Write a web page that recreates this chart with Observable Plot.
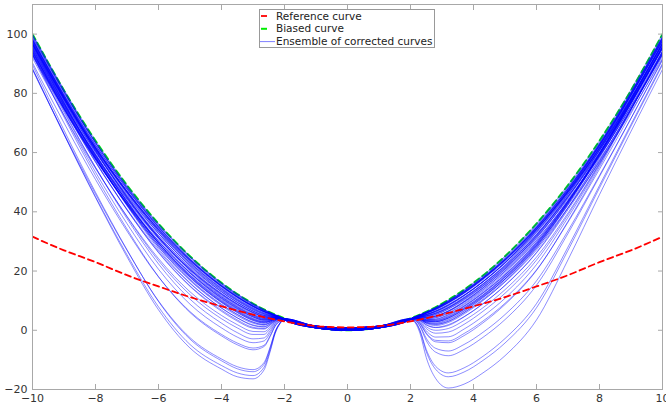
<!DOCTYPE html>
<html>
<head>
<meta charset="utf-8">
<script src="https://cdn.jsdelivr.net/npm/d3@7"></script>
<script src="https://cdn.jsdelivr.net/npm/@observablehq/plot@0.6"></script>
<style>
  body { margin: 0; background: #fff; }
  #chart { width: 666px; height: 411px; }
</style>
</head>
<body>
<div id="chart"></div>
<script>
// Axis ticks
const xTicks = [-10, -8, -6, -4, -2, 0, 2, 4, 6, 8, 10];
const yTicks = [-20, 0, 20, 40, 60, 80, 100];

// Reference and biased curves, sampled at integer x
const curveX = [-10, -9, -8, -7, -6, -5, -4, -3, -2, -1, 0, 1, 2, 3, 4, 5, 6, 7, 8, 9, 10];
const referenceY = [31.6, 27.0, 23.0, 18.6, 14.8, 11.2, 8.1, 5.3, 3.0, 1.4, 1.0, 1.4, 3.0, 5.3, 8.1, 11.2, 14.8, 18.6, 23.0, 27.0, 31.6];
const biasedY = [100, 81, 64, 49, 36, 25, 16, 9, 4, 1, 0, 1, 4, 9, 16, 25, 36, 49, 64, 81, 100];

// Ensemble of corrected curves: every row is one member, sampled at ensembleX
const ensembleX = [-10, -8, -7, -6, -5, -4, -3.5, -3, -2.65, -2.45, -2.3, -2.15, -2, -1, 0, 1, 2, 2.15, 2.3, 2.5, 2.8, 3.2, 3.7, 4.3, 5, 6, 7, 8, 10];
const ensembleY = [
  [88.5, 44.8, 24.8, 6.9, -6.0, -13.1, -15.7, -16.4, -13.4, -7.0, -1.2, 2.1, 3.7, 1.1, 0.3, 1.1, 3.7, 4.1, 3.8, 2.5, 2.0, 3.0, 6.0, 10.5, 16.8, 28.1, 42.9, 59.6, 97.1],
  [88.1, 45.1, 25.5, 7.9, -4.8, -11.9, -14.4, -15.3, -12.5, -6.5, -1.0, 2.2, 3.5, 0.8, 0.0, 0.8, 3.6, 4.5, 4.9, 5.3, 6.4, 8.4, 11.7, 16.4, 22.8, 33.8, 47.1, 62.3, 98.3],
  [89.6, 46.6, 27.2, 9.7, -3.0, -10.3, -13.0, -14.0, -11.5, -5.8, -0.6, 2.4, 3.9, 1.4, 0.8, 1.4, 3.9, 3.6, 2.2, -1.2, -3.9, -4.2, -1.8, 2.5, 8.7, 20.2, 36.8, 55.2, 94.2],
  [88.0, 46.0, 27.0, 9.9, -2.5, -9.7, -12.3, -13.3, -10.9, -5.5, -0.5, 2.4, 3.7, 1.1, 0.3, 1.1, 3.7, 4.5, 5.1, 5.9, 7.3, 9.6, 13.0, 17.7, 24.0, 34.8, 47.7, 62.5, 97.8],
  [93.0, 52.2, 34.2, 18.1, 6.0, -1.9, -4.9, -6.6, -5.5, -2.0, 1.3, 3.1, 3.5, 0.8, 0.0, 0.8, 3.6, 2.5, -1.0, -9.2, -16.3, -19.5, -18.2, -14.4, -8.6, 3.5, 23.8, 45.8, 88.1],
  [90.3, 50.9, 33.5, 18.0, 6.3, -1.4, -4.3, -6.0, -5.1, -1.7, 1.4, 3.0, 3.9, 1.4, 0.8, 1.4, 3.9, 4.2, 4.4, 4.3, 4.8, 6.5, 9.6, 14.2, 20.4, 31.2, 44.7, 60.0, 95.6],
  [93.1, 53.4, 36.0, 20.6, 8.8, 0.8, -2.3, -4.2, -3.6, -0.8, 1.9, 3.3, 3.7, 1.1, 0.3, 1.1, 3.7, 4.5, 5.1, 5.8, 7.1, 9.3, 12.6, 17.4, 23.8, 34.7, 47.8, 62.8, 98.7],
  [94.6, 55.0, 37.7, 22.4, 10.5, 2.4, -0.8, -2.9, -2.6, -0.1, 2.2, 3.5, 3.5, 0.8, 0.0, 0.8, 3.6, 2.8, -0.2, -7.2, -13.2, -15.7, -14.1, -10.2, -4.3, 7.6, 27.0, 48.1, 89.6],
  [93.4, 55.0, 38.3, 23.5, 12.0, 3.9, 0.8, -1.4, -1.4, 0.6, 2.6, 3.5, 3.9, 1.4, 0.8, 1.4, 3.9, 4.1, 4.0, 3.3, 3.2, 4.5, 7.5, 12.0, 18.3, 29.2, 43.3, 59.3, 95.8],
  [91.9, 54.6, 38.5, 24.2, 13.0, 5.0, 1.9, -0.4, -0.5, 1.1, 2.8, 3.6, 3.7, 1.1, 0.3, 1.1, 3.7, 4.4, 5.1, 6.0, 7.5, 9.8, 13.1, 17.8, 24.0, 34.6, 47.0, 61.4, 96.0],
  [95.3, 57.2, 40.7, 26.2, 14.8, 6.4, 3.1, 0.7, 0.4, 1.7, 3.1, 3.8, 3.5, 0.8, 0.0, 0.8, 3.6, 3.3, 1.3, -3.5, -7.4, -8.6, -6.5, -2.4, 3.6, 15.2, 32.7, 51.9, 91.5],
  [96.7, 58.4, 42.0, 27.5, 16.0, 7.5, 4.2, 1.6, 1.1, 2.2, 3.4, 3.9, 3.9, 1.4, 0.8, 1.4, 3.9, 4.4, 4.8, 4.9, 5.8, 7.7, 11.0, 15.7, 22.1, 33.2, 46.8, 62.4, 99.0],
  [95.2, 58.1, 42.2, 28.2, 17.0, 8.6, 5.3, 2.7, 1.9, 2.7, 3.6, 3.9, 3.7, 1.1, 0.3, 1.1, 3.7, 3.8, 2.9, 0.6, -1.0, -0.6, 2.0, 6.4, 12.5, 23.7, 39.0, 56.2, 93.8],
  [94.6, 58.1, 42.5, 28.8, 17.8, 9.4, 6.0, 3.4, 2.5, 3.1, 3.8, 4.0, 3.5, 0.8, 0.0, 0.8, 3.6, 4.4, 4.9, 5.4, 6.6, 8.7, 11.9, 16.5, 22.8, 33.5, 46.5, 61.3, 96.5],
  [98.0, 60.6, 44.7, 30.8, 19.5, 10.8, 7.3, 4.5, 3.4, 3.7, 4.1, 4.2, 3.9, 1.4, 0.8, 1.4, 3.9, 2.9, 0.1, -6.5, -12.2, -14.4, -12.7, -8.8, -2.8, 9.0, 28.1, 48.9, 90.1],
  [97.3, 60.6, 45.0, 31.4, 20.3, 11.6, 8.1, 5.2, 4.0, 4.1, 4.3, 4.2, 3.7, 1.1, 0.3, 1.1, 3.7, 4.5, 5.2, 6.0, 7.4, 9.7, 13.1, 17.8, 24.3, 35.2, 48.2, 63.1, 98.8],
  [96.5, 60.2, 44.9, 31.5, 20.5, 11.9, 8.4, 5.5, 4.2, 4.2, 4.3, 4.2, 3.5, 0.8, 0.0, 0.8, 3.6, 3.3, 1.6, -2.7, -6.1, -7.0, -4.8, -0.7, 5.3, 16.7, 33.6, 52.3, 91.2],
  [94.7, 59.3, 44.3, 31.3, 20.5, 12.1, 8.6, 5.8, 4.4, 4.3, 4.3, 4.2, 3.9, 1.4, 0.8, 1.4, 3.9, 4.3, 4.6, 4.9, 5.8, 7.7, 10.9, 15.4, 21.6, 32.2, 45.2, 60.1, 95.2],
  [97.9, 61.5, 46.2, 32.8, 21.8, 13.0, 9.4, 6.5, 5.0, 4.7, 4.6, 4.3, 3.7, 1.1, 0.3, 1.1, 3.7, 4.0, 3.4, 1.8, 0.9, 1.6, 4.5, 8.9, 15.2, 26.3, 41.3, 58.2, 95.6],
  [94.1, 59.3, 44.6, 31.9, 21.3, 12.9, 9.4, 6.5, 5.0, 4.7, 4.5, 4.2, 3.5, 0.8, 0.0, 0.8, 3.6, 4.4, 5.0, 5.9, 7.5, 9.7, 13.0, 17.6, 23.8, 34.2, 46.6, 60.8, 95.0],
  [97.3, 61.5, 46.5, 33.4, 22.5, 13.8, 10.2, 7.2, 5.6, 5.0, 4.8, 4.4, 3.9, 1.4, 0.8, 1.4, 3.9, 3.6, 2.3, -0.9, -3.4, -3.6, -1.1, 3.1, 9.1, 20.4, 36.5, 54.4, 92.6],
  [98.3, 62.1, 47.0, 33.8, 22.8, 14.0, 10.3, 7.3, 5.6, 5.1, 4.8, 4.4, 3.7, 1.1, 0.3, 1.1, 3.7, 4.5, 5.1, 5.8, 7.1, 9.3, 12.6, 17.4, 23.8, 34.7, 47.8, 62.8, 98.7],
  [96.4, 61.2, 46.4, 33.5, 22.8, 14.1, 10.5, 7.5, 5.8, 5.2, 4.8, 4.4, 3.5, 0.8, 0.0, 0.8, 3.6, 4.2, 4.1, 3.6, 3.8, 5.3, 8.3, 12.8, 19.0, 29.8, 43.6, 59.2, 95.1],
  [97.4, 61.8, 46.9, 33.9, 23.0, 14.3, 10.7, 7.6, 5.9, 5.3, 4.9, 4.4, 3.9, 1.4, 0.8, 1.4, 3.9, 4.5, 5.1, 6.0, 7.5, 9.8, 13.2, 17.8, 24.2, 35.0, 47.8, 62.6, 97.9],
  [98.6, 62.7, 47.7, 34.7, 23.8, 14.9, 11.2, 8.1, 6.3, 5.5, 5.0, 4.5, 3.7, 1.1, 0.3, 1.1, 3.7, 3.7, 2.6, -0.2, -2.3, -2.2, 0.4, 4.7, 10.8, 22.2, 38.1, 55.8, 94.1],
  [99.6, 63.4, 48.2, 35.1, 24.0, 15.1, 11.4, 8.2, 6.4, 5.6, 5.1, 4.5, 3.5, 0.8, 0.0, 0.8, 3.6, 4.4, 4.5, 4.3, 4.7, 6.4, 9.6, 14.3, 20.7, 31.8, 45.8, 61.7, 98.5],
  [95.8, 61.1, 46.7, 34.1, 23.5, 14.9, 11.3, 8.2, 6.4, 5.6, 5.0, 4.4, 3.9, 1.4, 0.8, 1.4, 3.9, 4.4, 4.8, 5.3, 6.5, 8.6, 11.8, 16.3, 22.6, 33.2, 46.0, 60.7, 95.5],
  [97.9, 62.5, 47.8, 35.0, 24.2, 15.4, 11.7, 8.6, 6.7, 5.8, 5.1, 4.5, 3.7, 1.1, 0.3, 1.1, 3.7, 4.1, 3.8, 2.8, 2.5, 3.7, 6.6, 11.1, 17.3, 28.3, 42.6, 58.8, 95.5],
  [99.0, 63.4, 48.5, 35.6, 24.8, 15.8, 12.1, 8.9, 7.0, 5.9, 5.2, 4.6, 3.5, 0.8, 0.0, 0.8, 3.6, 4.4, 4.6, 4.7, 5.3, 7.2, 10.4, 15.0, 21.4, 32.4, 46.0, 61.5, 97.8],
  [100, 64.0, 49.0, 36.0, 25.0, 16.0, 12.3, 9.0, 7.0, 6.0, 5.3, 4.6, 3.9, 1.4, 0.8, 1.4, 3.9, 4.6, 5.3, 6.3, 7.8, 10.2, 13.7, 18.5, 25.0, 36.0, 49.0, 64.0, 100],
  [96.7, 61.6, 46.9, 34.2, 23.5, 14.8, 11.2, 8.1, 6.3, 5.5, 5.0, 4.4, 3.7, 1.1, 0.3, 1.1, 3.7, 3.8, 3.2, 1.2, 0.0, 0.6, 3.3, 7.6, 13.7, 24.7, 39.6, 56.4, 93.3],
  [97.0, 61.0, 45.8, 32.7, 21.7, 13.1, 9.5, 6.5, 5.0, 4.7, 4.6, 4.3, 3.5, 0.8, 0.0, 0.8, 3.6, 4.5, 5.0, 5.8, 7.1, 9.4, 12.7, 17.4, 23.7, 34.5, 47.4, 62.3, 97.7],
  [93.2, 57.7, 42.7, 29.5, 18.8, 10.5, 7.1, 4.5, 3.4, 3.6, 4.0, 4.0, 3.9, 1.4, 0.8, 1.4, 3.9, 4.3, 4.7, 5.1, 6.1, 8.0, 11.2, 15.7, 21.8, 32.3, 45.1, 59.8, 94.3],
  [98.9, 63.2, 48.4, 35.5, 24.6, 15.7, 12.0, 8.8, 6.8, 5.9, 5.2, 4.6, 3.7, 1.1, 0.3, 1.1, 3.7, 4.6, 5.2, 6.1, 7.6, 10.0, 13.4, 18.1, 24.6, 35.5, 48.4, 63.3, 98.9],
  [99.6, 63.3, 48.1, 34.9, 23.8, 14.9, 11.2, 8.0, 6.2, 5.5, 5.0, 4.5, 3.5, 0.8, 0.0, 0.8, 3.6, 4.5, 4.9, 5.3, 6.3, 8.4, 11.7, 16.4, 22.9, 34.0, 47.4, 62.9, 99.3],
  [96.8, 61.7, 47.1, 34.4, 23.7, 15.0, 11.3, 8.2, 6.4, 5.6, 5.0, 4.4, 3.9, 1.4, 0.8, 1.4, 3.9, 4.4, 5.0, 5.8, 7.2, 9.4, 12.7, 17.4, 23.7, 34.4, 47.1, 61.8, 96.8],
  [95.8, 59.0, 43.3, 29.6, 18.5, 10.0, 6.6, 3.9, 2.9, 3.4, 3.9, 4.1, 3.7, 1.1, 0.3, 1.1, 3.7, 4.1, 3.9, 3.1, 2.9, 4.1, 7.1, 11.5, 17.8, 28.8, 43.0, 59.1, 95.6],
  [96.0, 58.4, 42.3, 28.1, 16.8, 8.3, 4.9, 2.4, 1.7, 2.6, 3.6, 3.9, 3.5, 0.8, 0.0, 0.8, 3.6, 4.4, 4.7, 4.9, 5.7, 7.6, 10.8, 15.5, 21.9, 32.9, 46.4, 61.8, 98.0],
  [93.9, 58.9, 44.2, 31.4, 20.8, 12.4, 8.9, 6.1, 4.7, 4.4, 4.4, 4.2, 3.9, 1.4, 0.8, 1.4, 3.9, 4.0, 4.0, 3.3, 3.3, 4.6, 7.6, 11.9, 18.0, 28.6, 42.2, 57.7, 93.0],
  [95.2, 59.0, 43.6, 30.2, 19.3, 10.8, 7.4, 4.6, 3.5, 3.7, 4.1, 4.1, 3.7, 1.1, 0.3, 1.1, 3.7, 4.2, 4.2, 3.9, 4.2, 5.7, 8.7, 13.2, 19.5, 30.3, 43.9, 59.5, 95.3],
  [97.4, 59.7, 43.5, 29.4, 18.0, 9.4, 6.0, 3.3, 2.4, 3.1, 3.8, 4.1, 3.5, 0.8, 0.0, 0.8, 3.6, 4.1, 3.7, 2.3, 1.6, 2.6, 5.5, 10.0, 16.4, 27.6, 42.5, 59.3, 96.9],
  [95.3, 60.2, 45.5, 32.7, 22.0, 13.5, 10.0, 7.0, 5.4, 4.9, 4.7, 4.3, 3.9, 1.4, 0.8, 1.4, 3.9, 4.0, 3.6, 2.5, 2.0, 3.0, 5.9, 10.2, 16.3, 27.1, 41.3, 57.3, 93.3],
  [94.5, 56.8, 40.6, 26.4, 15.0, 6.8, 3.5, 1.0, 0.6, 1.9, 3.2, 3.8, 3.7, 1.1, 0.3, 1.1, 3.7, 4.3, 4.5, 4.4, 4.9, 6.6, 9.8, 14.4, 20.7, 31.6, 45.1, 60.6, 96.6],
  [92.5, 57.7, 42.9, 30.1, 19.5, 11.3, 7.9, 5.2, 4.0, 4.0, 4.1, 4.0, 3.5, 0.8, 0.0, 0.8, 3.6, 4.0, 3.8, 3.0, 2.9, 4.1, 7.0, 11.3, 17.3, 27.8, 41.4, 56.8, 91.8],
  [96.6, 59.3, 43.4, 29.5, 18.3, 9.7, 6.3, 3.6, 2.7, 3.2, 3.9, 4.1, 3.9, 1.4, 0.8, 1.4, 3.9, 4.5, 4.9, 5.3, 6.4, 8.4, 11.7, 16.4, 22.8, 33.8, 47.1, 62.3, 98.3],
  [96.6, 61.5, 46.8, 34.0, 23.3, 14.6, 11.0, 7.9, 6.2, 5.4, 4.9, 4.4, 3.7, 1.1, 0.3, 1.1, 3.7, 3.9, 3.4, 1.9, 1.0, 1.9, 4.6, 9.0, 15.1, 26.1, 40.7, 57.1, 93.8],
  [94.0, 58.0, 42.8, 29.4, 18.5, 10.2, 6.8, 4.1, 3.1, 3.5, 3.9, 4.0, 3.5, 0.8, 0.0, 0.8, 3.6, 4.1, 4.1, 3.6, 3.7, 5.2, 8.1, 12.6, 18.7, 29.4, 43.1, 58.6, 94.1],
  [96.7, 60.6, 45.3, 32.0, 21.0, 12.4, 8.9, 6.0, 4.6, 4.4, 4.4, 4.3, 3.9, 1.4, 0.8, 1.4, 3.9, 4.3, 4.6, 4.6, 5.3, 7.1, 10.2, 14.8, 21.1, 32.0, 45.5, 60.9, 96.8],
  [93.9, 56.8, 40.9, 26.9, 15.8, 7.5, 4.2, 1.8, 1.2, 2.3, 3.3, 3.8, 3.7, 1.1, 0.3, 1.1, 3.7, 4.4, 5.0, 5.6, 6.9, 9.1, 12.4, 17.0, 23.3, 34.0, 46.8, 61.6, 96.7],
  [98.1, 61.8, 46.6, 33.3, 22.3, 13.5, 9.9, 6.9, 5.3, 4.9, 4.7, 4.4, 3.5, 0.8, 0.0, 0.8, 3.6, 4.2, 4.0, 3.1, 2.9, 4.2, 7.2, 11.7, 18.0, 29.1, 43.5, 59.7, 96.6],
  [93.3, 58.0, 43.0, 30.0, 19.3, 11.0, 7.6, 4.9, 3.7, 3.8, 4.1, 4.0, 3.9, 1.4, 0.8, 1.4, 3.9, 4.2, 4.3, 4.2, 4.7, 6.3, 9.4, 13.8, 19.9, 30.5, 43.7, 58.7, 93.6],
  [93.8, 57.7, 42.4, 28.9, 18.0, 9.7, 6.4, 3.7, 2.8, 3.2, 3.8, 4.0, 3.7, 1.1, 0.3, 1.1, 3.7, 4.4, 5.0, 5.8, 7.2, 9.4, 12.7, 17.3, 23.5, 34.1, 46.7, 61.2, 95.8],
  [97.8, 62.4, 47.6, 34.8, 24.0, 15.2, 11.6, 8.4, 6.6, 5.7, 5.1, 4.5, 3.5, 0.8, 0.0, 0.8, 3.6, 4.2, 4.1, 3.5, 3.5, 4.9, 8.0, 12.5, 18.7, 29.7, 43.7, 59.6, 96.0],
  [96.2, 58.7, 42.7, 28.6, 17.3, 8.8, 5.4, 2.8, 2.0, 2.8, 3.7, 4.0, 3.9, 1.4, 0.8, 1.4, 3.9, 4.3, 4.3, 4.0, 4.3, 5.9, 9.0, 13.6, 20.0, 31.0, 44.9, 60.8, 97.3],
  [92.9, 58.3, 43.7, 31.0, 20.5, 12.2, 8.8, 6.0, 4.6, 4.4, 4.3, 4.1, 3.7, 1.1, 0.3, 1.1, 3.7, 4.2, 4.5, 4.8, 5.6, 7.5, 10.6, 15.0, 21.1, 31.5, 44.3, 58.9, 93.2],
  [98.2, 60.9, 45.1, 31.3, 20.0, 11.3, 7.8, 4.9, 3.7, 3.9, 4.2, 4.2, 3.5, 0.8, 0.0, 0.8, 3.6, 4.1, 3.9, 2.7, 2.3, 3.4, 6.4, 11.0, 17.3, 28.6, 43.2, 59.8, 97.3]
];

const legendLabels = ["Reference curve", "Biased curve", "Ensemble of corrected curves"];

const RED = "#ff0000";
const GREEN = "#00ee00";
const BLUE = "#0000ff";
const BLUE_OPACITY = 0.5;
const AXIS_GRAY = "#a8a8a8";

const reference = curveX.map((x, i) => ({x, y: referenceY[i]}));
const biased = curveX.map((x, i) => ({x, y: biasedY[i]}));
const ensemble = ensembleY.flatMap((ys, k) => ys.map((y, i) => ({member: k, x: ensembleX[i], y})));

const chart = Plot.plot({
  width: 666,
  height: 411,
  marginLeft: 32,
  marginRight: 4,
  marginTop: 4,
  marginBottom: 22,
  style: {fontFamily: "'DejaVu Sans', sans-serif", fontSize: "10px", color: "#333", background: "#fff", overflow: "visible"},
  x: {domain: [-10, 10]},
  y: {domain: [-20, 110]},
  marks: [
    Plot.line(biased, {x: "x", y: "y", curve: "natural", stroke: GREEN, strokeWidth: 2, strokeDasharray: "6,4", clip: true}),
    Plot.line(ensemble, {x: "x", y: "y", z: "member", curve: "monotone-x", stroke: BLUE, strokeOpacity: BLUE_OPACITY, strokeWidth: 0.9, clip: true}),
    Plot.line(reference, {x: "x", y: "y", curve: "natural", stroke: RED, strokeWidth: 1.8, strokeDasharray: "6,4", clip: true}),
    Plot.frame({stroke: AXIS_GRAY}),
    // inward ticks on all four sides
    Plot.axisX(xTicks, {anchor: "bottom", tickSize: -5, text: null, label: null, stroke: AXIS_GRAY}),
    Plot.axisX(xTicks, {anchor: "top", tickSize: -5, text: null, label: null, stroke: AXIS_GRAY}),
    Plot.axisY(yTicks, {anchor: "left", tickSize: -5, text: null, label: null, stroke: AXIS_GRAY}),
    Plot.axisY(yTicks, {anchor: "right", tickSize: -5, text: null, label: null, stroke: AXIS_GRAY}),
    // tick labels
    Plot.axisX(xTicks, {anchor: "bottom", tickSize: 0, tickPadding: 5, label: null, fill: "#333", fontSize: 11}),
    Plot.axisY(yTicks, {anchor: "left", tickSize: 0, tickPadding: 5, label: null, fill: "#333", fontSize: 11})
  ]
});

// Legend box inside the plot area
const svg = d3.select(chart);
const legend = svg.append("g")
  .attr("font-family", "'DejaVu Sans', sans-serif")
  .attr("font-size", 10.5)
  .attr("text-anchor", "start");
legend.append("rect")
  .attr("x", 259.5).attr("y", 9.5).attr("width", 175).attr("height", 38)
  .attr("fill", "#fff").attr("stroke", "#999");
const samples = [
  {stroke: RED, x1: 261, x2: 267, width: 1.8, opacity: 1},
  {stroke: GREEN, x1: 261, x2: 267, width: 2, opacity: 1},
  {stroke: BLUE, x1: 260, x2: 275, width: 1, opacity: BLUE_OPACITY}
];
legendLabels.forEach((label, i) => {
  const cy = 16 + i * 12.8;
  const s = samples[i];
  legend.append("line")
    .attr("x1", s.x1).attr("x2", s.x2).attr("y1", cy).attr("y2", cy)
    .attr("stroke", s.stroke).attr("stroke-width", s.width).attr("stroke-opacity", s.opacity);
  legend.append("text")
    .attr("x", 276).attr("y", cy).attr("dy", "0.35em")
    .attr("fill", "#222").text(label);
});

document.getElementById("chart").appendChild(chart);
</script>
</body>
</html>
